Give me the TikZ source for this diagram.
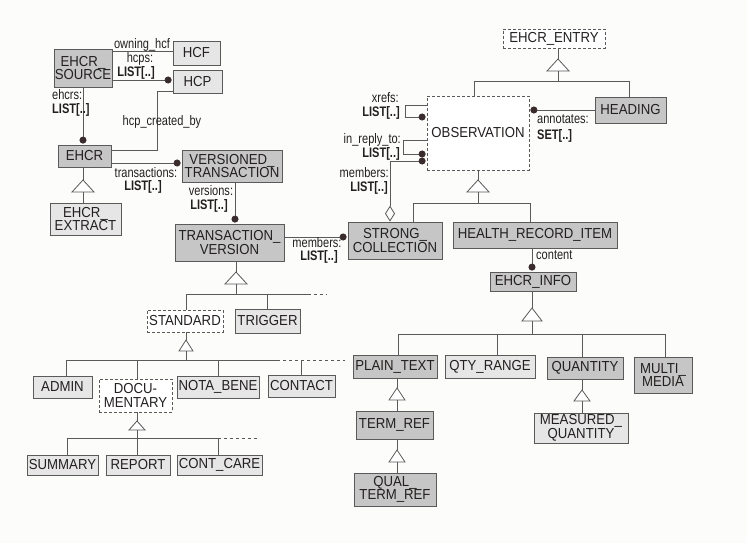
\documentclass[tikz,border=0pt]{standalone}
\usepackage{fontspec}
\setmainfont{Liberation Sans}
\newfontfamily\boxfamily[FakeStretch=0.91]{Liberation Sans}
\newfontfamily\lblfamily[FakeStretch=0.8]{Liberation Sans}
\usetikzlibrary{arrows.meta}

\definecolor{paper}{HTML}{FCFCFB}
\definecolor{edge}{HTML}{5A5A5A}
\definecolor{ink}{HTML}{231F1F}
\definecolor{darkfill}{HTML}{C6C6C6}
\definecolor{lightfill}{HTML}{E6E6E6}
\definecolor{dotcol}{HTML}{3A2C2C}

\newcommand\boxfont{\boxfamily\fontsize{14.5}{13.5}\selectfont}
\newcommand\lblfont{\lblfamily\fontsize{13.8}{13}\selectfont}

% inheritance triangle: name, apex x, apex y, half width, height
\newcommand\inhtri[5]{%
  \coordinate (#1) at (#2,#3);
  \coordinate (#1b) at (#2,#3+#5);
  \draw[tri] (#1) -- (#2-#4,#3+#5) -- (#2+#4,#3+#5) -- cycle;
}

\tikzset{
  basebox/.style={draw=edge, line width=0.8pt, inner sep=0pt, align=center,
    font=\boxfont, text=ink},
  darkbox/.style={basebox, fill=darkfill},
  lightbox/.style={basebox, fill=lightfill},
  absbox/.style={basebox, fill=white, dash pattern=on 3pt off 2pt},
  lbl/.style={font=\lblfont, text=ink, inner sep=0pt},
  link/.style={draw=edge, line width=0.8pt},
  tri/.style={draw=edge, line width=0.8pt, fill=white},
  dotend/.style={link, -{Circle[length=7pt, color=dotcol, fill=dotcol]}, shorten >=1pt},
  dotstart/.style={link, {Circle[length=7pt, color=dotcol, fill=dotcol]}-, shorten <=1pt},
  stub/.style={link, dash pattern=on 3pt off 3pt},
}

\begin{document}
\begin{tikzpicture}[x=1pt, y=-1pt]
\fill[paper] (0,0) rectangle (747,543);
\useasboundingbox (0,0) rectangle (747,543);

% ---------- left part: sources and transactions ----------
\node[darkbox, minimum width=58pt, minimum height=38pt] (src) at (83,68) {EHCR\_\\SOURCE};
\node[lightbox, minimum width=47pt, minimum height=24pt] (hcf) at (196.5,53) {HCF};
\node[lightbox, minimum width=49pt, minimum height=23pt] (hcp) at (197.5,81.5) {HCP};
\node[darkbox, minimum width=53pt, minimum height=22pt] (ehcr) at (84.5,156) {EHCR};
\node[lightbox, minimum width=71pt, minimum height=32pt] (extract) at (85.5,219) {EHCR\_\\EXTRACT};
\node[darkbox, minimum width=100pt, minimum height=32pt] (vt) at (232,166) {VERSIONED\_\\TRANSACTION};
\node[darkbox, minimum width=109pt, minimum height=37pt] (tv) at (229.5,242.5) {TRANSACTION\_\\VERSION};

\node[absbox, minimum width=76pt, minimum height=22pt] (standard) at (185,321) {STANDARD};
\node[lightbox, minimum width=65pt, minimum height=24pt] (trigger) at (267.5,321) {TRIGGER};

\node[lightbox, minimum width=59pt, minimum height=22pt] (admin) at (62.5,387) {ADMIN};
\node[absbox, minimum width=73pt, minimum height=33pt] (docu) at (135.5,395.5) {DOCU-\\MENTARY};
\node[lightbox, minimum width=82pt, minimum height=22pt] (nota) at (218,387) {NOTA\_BENE};
\node[lightbox, minimum width=67pt, minimum height=22pt] (contact) at (301.5,386) {CONTACT};

\node[lightbox, minimum width=71pt, minimum height=20pt] (summary) at (62.5,465) {SUMMARY};
\node[lightbox, minimum width=64pt, minimum height=20pt] (report) at (138,465) {REPORT};
\node[lightbox, minimum width=85pt, minimum height=20pt] (contcare) at (219.5,465) {CONT\_CARE};

% ---------- right part: entries ----------
\node[absbox, minimum width=102pt, minimum height=19pt] (entry) at (554,38.5) {EHCR\_ENTRY};
\node[absbox, minimum width=102pt, minimum height=74pt] (obs) at (478,133) {OBSERVATION};
\node[darkbox, minimum width=71pt, minimum height=26pt] (heading) at (630.5,110) {HEADING};
\node[darkbox, minimum width=94pt, minimum height=37pt] (strong) at (395,240.5) {STRONG\_\\COLLECTION};
\node[darkbox, minimum width=164pt, minimum height=26pt] (hri) at (535,235) {HEALTH\_RECORD\_ITEM};
\node[darkbox, minimum width=86pt, minimum height=19pt] (info) at (533,281.5) {EHCR\_INFO};

\node[darkbox, minimum width=84pt, minimum height=23pt] (plain) at (395,366.5) {PLAIN\_TEXT};
\node[lightbox, minimum width=90pt, minimum height=23pt] (qty) at (490,366.5) {QTY\_RANGE};
\node[darkbox, minimum width=76pt, minimum height=22pt] (quantity) at (585,368) {QUANTITY};
\node[darkbox, minimum width=58pt, minimum height=36pt] (multi) at (663,375) {MULTI\_\\MEDIA};
\node[darkbox, minimum width=77pt, minimum height=28pt] (term) at (394.5,425) {TERM\_REF};
\node[darkbox, minimum width=82pt, minimum height=33pt] (qual) at (395,489.5) {QUAL\_\\TERM\_REF};
\node[lightbox, minimum width=94pt, minimum height=30pt] (measured) at (581,428) {MEASURED\_\\QUANTITY};

% ---------- associations ----------
\draw[link] (src.east |- 0,51) -- (hcf.west |- 0,51);
\draw[dotend] (src.east |- 0,80) -- (hcp.west |- 0,80);
\draw[dotend] (src.south -| 83,0) -- (ehcr.north -| 83,0);
\draw[link] (ehcr.east |- 0,150) -| (157,91) -- (hcp.west |- 0,91);
\draw[dotend] (ehcr.east |- 0,163) -- (vt.west |- 0,163);
\draw[dotend] (vt.south -| 235,0) -- (tv.north -| 235,0);
\draw[dotend] (tv.east |- 0,237) -- (strong.west |- 0,237);

\draw[dotstart] (obs.east |- heading.west) -- (heading.west);
\draw[dotend] (obs.west |- 0,105) -- ++(-21,0) -- ++(0,12) -- (obs.west |- 0,117);
\draw[dotend] (obs.west |- 0,140) -- ++(-23,0) -- ++(0,14) -- (obs.west |- 0,154);
\draw[link, {Diamond[open, length=16pt, width=10pt]}-{Circle[length=7pt, color=dotcol, fill=dotcol]}, shorten >=1pt]
  (strong.north -| 390,0) -- (390,161) -- (obs.west |- 0,161);
\draw[dotend] (hri.south -| 532,0) -- (info.north -| 532,0);

% ---------- association labels ----------
\node[lbl] (l_owning) at (142,45) {owning\_hcf};
\node[lbl] (l_hcps) at (140,59) {hcps:};
\node[lbl] (l_hcpsl) at (136,73) {\bfseries LIST[..]};
\node[lbl, anchor=west] (l_ehcrs) at (52,95) {ehcrs:};
\node[lbl, anchor=west] (l_ehcrsl) at (52,110) {\bfseries LIST[..]};
\node[lbl] (l_created) at (162,122) {hcp\_created\_by};
\node[lbl] (l_trans) at (146,173) {transactions:};
\node[lbl] (l_transl) at (143,187) {\bfseries LIST[..]};
\node[lbl] (l_vers) at (211,191) {versions:};
\node[lbl] (l_versl) at (209,206) {\bfseries LIST[..]};
\node[lbl] (l_memb) at (317,243) {members:};
\node[lbl] (l_membl) at (319,257) {\bfseries LIST[..]};
\node[lbl, anchor=east] (l_xrefs) at (399,98) {xrefs:};
\node[lbl, anchor=east] (l_xrefsl) at (400,113) {\bfseries LIST[..]};
\node[lbl, anchor=east] (l_reply) at (401,140) {in\_reply\_to:};
\node[lbl, anchor=east] (l_replyl) at (400,154) {\bfseries LIST[..]};
\node[lbl, anchor=east] (l_memb2) at (389,173) {members:};
\node[lbl, anchor=east] (l_memb2l) at (388,188) {\bfseries LIST[..]};
\node[lbl, anchor=west] (l_annot) at (537,119) {annotates:};
\node[lbl, anchor=west] (l_annotl) at (537,136) {\bfseries SET[..]};
\node[lbl, anchor=west] (l_content) at (536,255) {content};

% ---------- inheritance ----------
% EHCR -> EHCR_EXTRACT
\inhtri{ta}{83}{180}{11}{12}
\draw[link] (ehcr.south -| ta) -- (ta);
\draw[link] (tab) -- (extract.north -| tab);

% TRANSACTION_VERSION -> STANDARD, TRIGGER, ...
\inhtri{tb}{236}{272}{11}{12}
\coordinate (barb) at (308,294);
\coordinate (barbe) at (327,294);
\draw[link] (tv.south -| tb) -- (tb);
\draw[link] (tbb) -- (tbb |- barb);
\draw[link] (standard.north -| 186,0) |- (barb);
\draw[link] (trigger.north) -- (trigger.north |- barb);
\draw[stub] (barb) -- (barbe);

% STANDARD -> ADMIN, DOCUMENTARY, NOTA_BENE, CONTACT, ...
\inhtri{tc}{186}{340}{7}{11}
\coordinate (barc) at (277,360);
\coordinate (barce) at (345,360);
\draw[link] (standard.south -| tc) -- (tc);
\draw[link] (tcb) -- (tcb |- barc);
\draw[link] (admin.north -| 66,0) |- (barc);
\draw[link] (docu.north -| 137,0) -- (137,360);
\draw[link] (nota.north) -- (nota.north |- barc);
\draw[stub] (barc) -- (barce);
\draw[link] (contact.north) -- (contact.north |- barc);

% DOCUMENTARY -> SUMMARY, REPORT, CONT_CARE, ...
\inhtri{td}{137}{421}{8}{9}
\coordinate (bard) at (218,438);
\coordinate (barde) at (260,438);
\draw[link] (docu.south -| td) -- (td);
\draw[link] (tdb) -- (report.north -| tdb);
\draw[link] (summary.north -| 67,0) |- (bard);
\draw[link] (contcare.north -| 218,0) -- (bard);
\draw[stub] (bard) -- (barde);

% EHCR_ENTRY -> OBSERVATION, HEADING
\inhtri{te}{558}{59}{11}{12}
\coordinate (bare) at (629,81);
\draw[link] (entry.south -| te) -- (te);
\draw[link] (teb) -- (teb |- bare);
\draw[link] (obs.north -| 474,0) |- (bare) -- (heading.north -| bare);

% OBSERVATION -> STRONG_COLLECTION, HEALTH_RECORD_ITEM
\inhtri{tf}{478}{180}{11}{12}
\coordinate (barf) at (530,203);
\draw[link] (obs.south -| tf) -- (tf);
\draw[link] (tfb) -- (tfb |- barf);
\draw[link] (strong.north -| 413,0) |- (barf) -- (hri.north -| barf);

% EHCR_INFO -> PLAIN_TEXT, QTY_RANGE, QUANTITY, MULTI_MEDIA
\inhtri{tg}{532}{308}{10}{13}
\coordinate (barg) at (665,334);
\draw[link] (info.south -| tg) -- (tg);
\draw[link] (tgb) -- (tgb |- barg);
\draw[link] (plain.north -| 398,0) |- (barg) -- (multi.north -| barg);
\draw[link] (qty.north -| 497,0) -- (497,334);
\draw[link] (quantity.north -| 582,0) -- (582,334);

% PLAIN_TEXT -> TERM_REF -> QUAL_TERM_REF
\inhtri{th}{397}{388}{8}{12}
\draw[link] (plain.south -| th) -- (th);
\draw[link] (thb) -- (term.north -| thb);
\inhtri{ti}{397}{450}{8}{12}
\draw[link] (term.south -| ti) -- (ti);
\draw[link] (tib) -- (qual.north -| tib);

% QUANTITY -> MEASURED_QUANTITY
\inhtri{tj}{582}{390}{8}{11}
\draw[link] (quantity.south -| tj) -- (tj);
\draw[link] (tjb) -- (measured.north -| tjb);
\end{tikzpicture}
\end{document}
